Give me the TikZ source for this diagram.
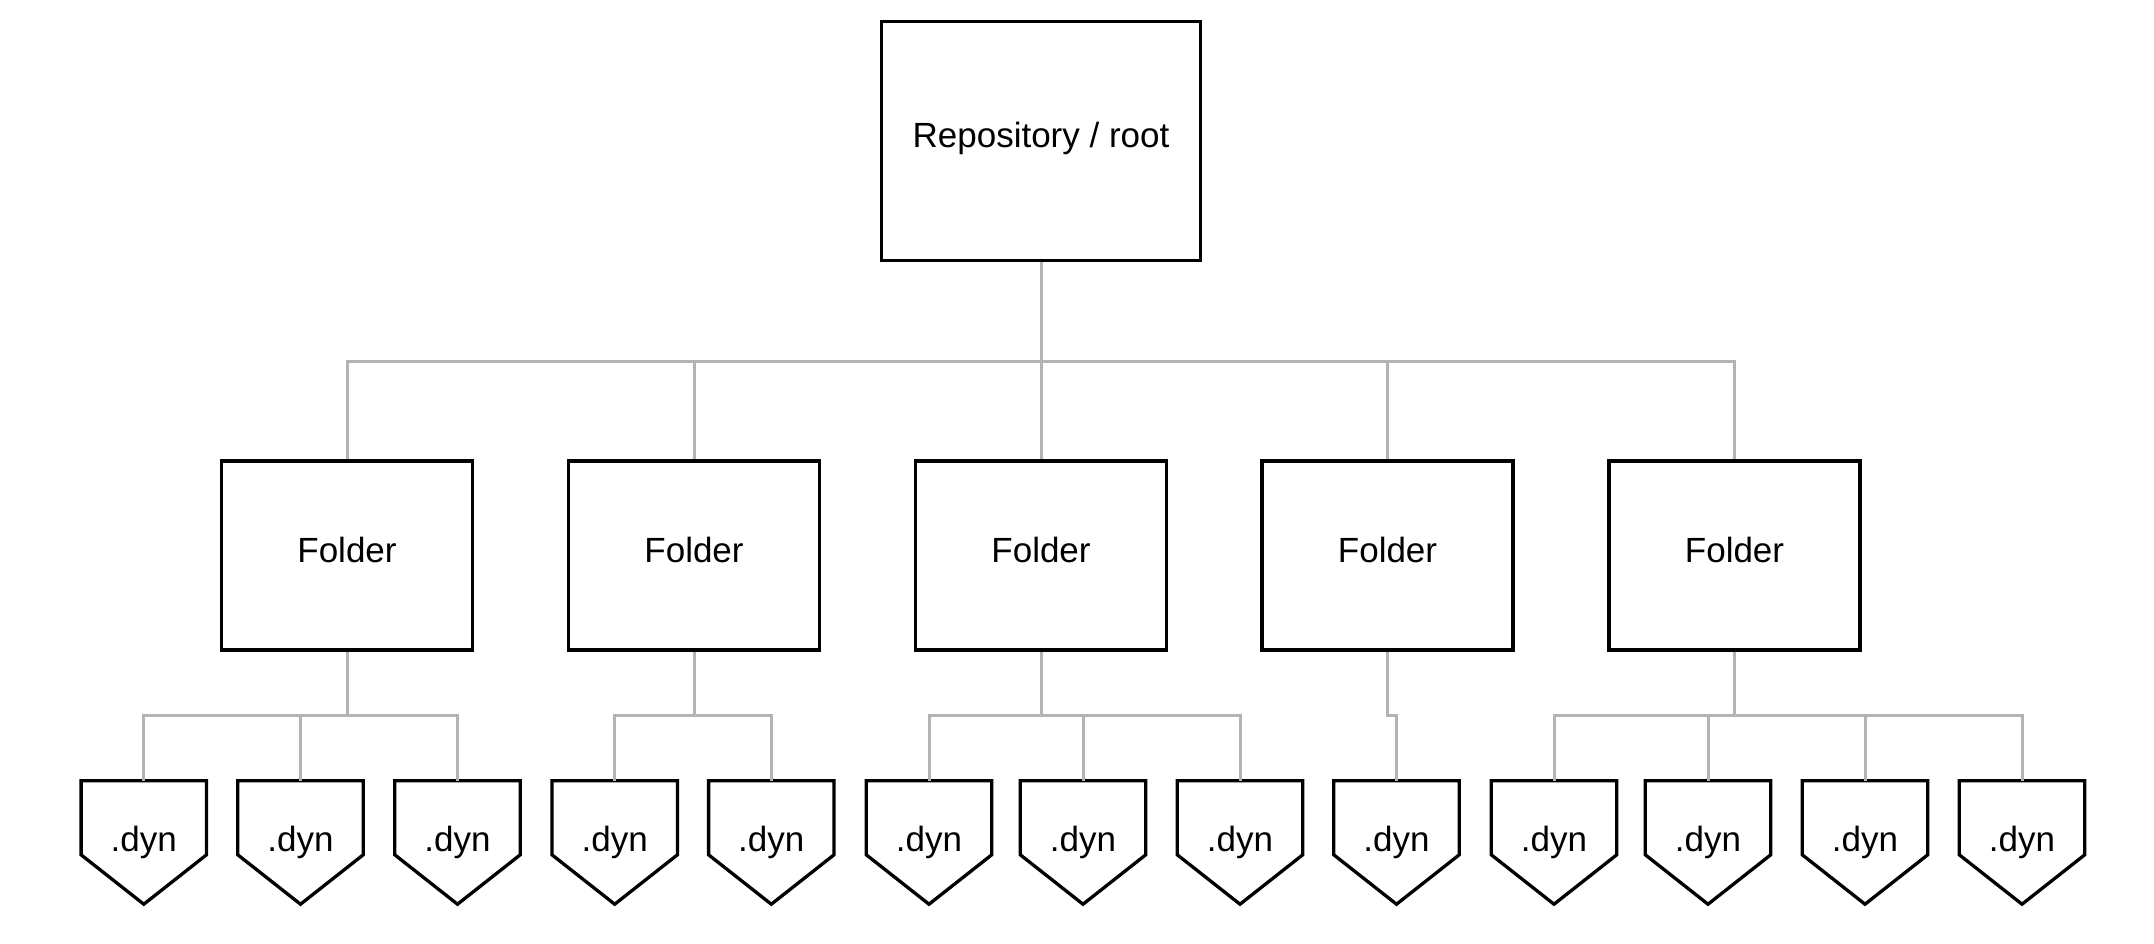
\documentclass[tikz,border=0pt]{standalone}
\usepackage{fontspec}
\setmainfont{Liberation Sans}
\usetikzlibrary{calc}
\definecolor{linegrey}{HTML}{B3B3B3}
\begin{document}
\begin{tikzpicture}[x=1pt,y=-1pt,
  lbl/.style={font=\fontsize{35}{42}\selectfont, text height=25pt},
  box/.style={lbl, draw=black, line width=3.3pt, rectangle, inner sep=0pt},
  rootbox/.style={box, minimum width=319.5pt, minimum height=239.5pt, text depth=12pt},
  folder/.style={box, minimum width=251pt, minimum height=189pt, text depth=11pt},
  dynbox/.style={lbl, rectangle, inner sep=0pt, minimum width=125pt, minimum height=123pt, text depth=8pt},
  dynline/.style={draw=black, line width=3.3pt, line join=miter},
  conn/.style={draw=linegrey, line width=3pt}]
\useasboundingbox (0,0) rectangle (2154,943);

% root
\node[rootbox] (root) at (1041,141) {Repository / root};

% folders
\foreach \i/\x in {1/347,2/694,3/1041,4/1387.5,5/1734.5}
  \node[folder] (f\i) at (\x,555.5) {Folder};

% .dyn files
\foreach \i/\x in {1/143.8,2/300.5,3/457.5,4/614.7,5/771.3,6/929,7/1083,8/1240,9/1396.5,10/1554,11/1708,12/1865,13/2022}{
  \node[dynbox] (d\i) at (\x,842.5) {.dyn};
  \draw[dynline] (d\i.north west) -- (d\i.north east) -- ([yshift=-74pt]d\i.north east)
     -- (d\i.south) -- ([yshift=-74pt]d\i.north west) -- cycle;
}

% bus coordinates
\coordinate (rbus) at (1041,361);
\coordinate (cbus) at (0,715.3);

% root to folders
\foreach \i in {1,...,5}
  \draw[conn] (root.south) -- (rbus) -| (f\i.north);

% folders to files
\foreach \f/\d in {1/1,1/2,1/3,2/4,2/5,3/6,3/7,3/8,4/9,5/10,5/11,5/12,5/13}
  \draw[conn] (f\f.south) -- (f\f.south |- cbus) -| (d\d.north);
\end{tikzpicture}
\end{document}
